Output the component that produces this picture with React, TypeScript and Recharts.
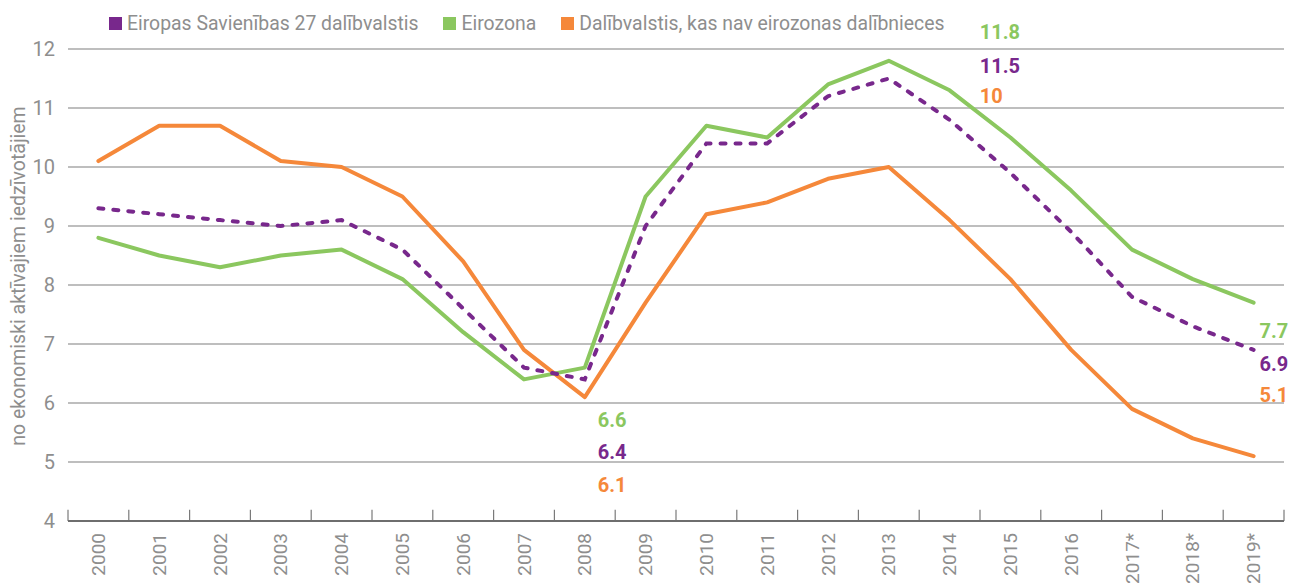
import React from 'react';
import { LineChart, Line, XAxis, YAxis, CartesianGrid, ReferenceLine, LabelList, Label } from 'recharts';

const years = ['2000', '2001', '2002', '2003', '2004', '2005', '2006', '2007', '2008', '2009', '2010', '2011', '2012', '2013', '2014', '2015', '2016', '2017*', '2018*', '2019*'];
const eu27 = [9.3, 9.2, 9.1, 9.0, 9.1, 8.6, 7.6, 6.6, 6.4, 9.0, 10.4, 10.4, 11.2, 11.5, 10.8, 9.9, 8.9, 7.8, 7.3, 6.9];
const euroArea = [8.8, 8.5, 8.3, 8.5, 8.6, 8.1, 7.2, 6.4, 6.6, 9.5, 10.7, 10.5, 11.4, 11.8, 11.3, 10.5, 9.6, 8.6, 8.1, 7.7];
const nonEuro = [10.1, 10.7, 10.7, 10.1, 10.0, 9.5, 8.4, 6.9, 6.1, 7.7, 9.2, 9.4, 9.8, 10.0, 9.1, 8.1, 6.9, 5.9, 5.4, 5.1];
const yTicks = [4, 5, 6, 7, 8, 9, 10, 11, 12];
const seriesNames = ['Eiropas Savienības 27 dalībvalstis', 'Eirozona', 'Dalībvalstis, kas nav eirozonas dalībnieces'];
const yAxisTitle = 'no ekonomiski aktīvajiem iedzīvotājiem';

const PURPLE = '#78288c';
const GREEN = '#8bc75f';
const ORANGE = '#f5883a';
const GRAY = '#8e8e8e';
const FONT = 'Roboto, "Open Sans", sans-serif';

const data = years.map((year, i) => ({ i, year, eu27: eu27[i], euro: euroArea[i], non: nonEuro[i] }));
const xTicks = years.map((_, i) => i);
const boundaries = [...years.map((_, i) => i - 0.5), years.length - 0.5];

// annotation layout: index -> [dx, dy] relative to the point
const annGreen: Record<number, [number, number]> = { 8: [13, 52], 13: [91, -29], 19: [6, 28] };
const annPurple: Record<number, [number, number]> = { 8: [13, 73], 13: [91, -13], 19: [6, 14] };
const annOrange: Record<number, [number, number]> = { 8: [13, 88], 13: [91, -71], 19: [6, -61] };

const makeLabel = (ann: Record<number, [number, number]>, color: string) => (props: any) => {
  const { x, y, index, value } = props;
  const off = ann[index];
  if (!off) return null;
  return (
    <text x={x + off[0]} y={y + off[1]} fill={color} fontFamily={FONT} fontWeight={700} fontSize={20} textAnchor="start" dominantBaseline="central">
      {String(value)}
    </text>
  );
};

const XTick = (props: any) => {
  const { x, y, payload } = props;
  return (
    <text x={x} y={y} transform={`rotate(-90, ${x}, ${y})`} textAnchor="end" dominantBaseline="central" fill={GRAY} fontFamily={FONT} fontSize={19}>
      {years[payload.value]}
    </text>
  );
};

const legendColors = [PURPLE, GREEN, ORANGE];

export default function App() {
  return (
    <div style={{ position: 'absolute', left: 0, top: 0, width: 1290, height: 583, background: '#fff' }}>
      <LineChart width={1290} height={583} data={data} margin={{ top: 49, right: 6, bottom: 0, left: 0 }}>
        <CartesianGrid horizontal vertical={false} stroke="#a8a8a8" strokeWidth={1.5} />
        <XAxis
          dataKey="i"
          type="number"
          domain={[-0.5, years.length - 0.5]}
          ticks={xTicks}
          interval={0}
          tick={<XTick />}
          tickLine={false}
          tickSize={0}
          tickMargin={12}
          height={62}
          axisLine={{ stroke: '#6e6e6e', strokeWidth: 2 }}
        />
        <YAxis
          domain={[4, 12]}
          ticks={yTicks}
          width={68}
          axisLine={false}
          tickLine={false}
          tickMargin={7}
          tick={{ fill: GRAY, fontSize: 20, fontFamily: FONT }}
        >
          <Label value={yAxisTitle} angle={-90} position="insideLeft" offset={0} dx={18} dy={-9} style={{ fill: GRAY, fontSize: 19.5, fontFamily: FONT, textAnchor: 'middle' }} />
        </YAxis>
        {boundaries.map((b) => (
          <ReferenceLine key={b} segment={[{ x: b, y: 4 }, { x: b, y: 4.19 }]} stroke="#7a7a7a" strokeWidth={1.2} />
        ))}
        <Line dataKey="non" stroke={ORANGE} strokeWidth={4} dot={false} isAnimationActive={false} strokeLinejoin="round" strokeLinecap="round">
          <LabelList dataKey="non" content={makeLabel(annOrange, ORANGE)} />
        </Line>
        <Line dataKey="euro" stroke={GREEN} strokeWidth={4} dot={false} isAnimationActive={false} strokeLinejoin="round" strokeLinecap="round">
          <LabelList dataKey="euro" content={makeLabel(annGreen, GREEN)} />
        </Line>
        <Line dataKey="eu27" stroke={PURPLE} strokeWidth={4} strokeDasharray="5 10" strokeLinecap="round" dot={false} isAnimationActive={false}>
          <LabelList dataKey="eu27" content={makeLabel(annPurple, PURPLE)} />
        </Line>
      </LineChart>
      <div style={{ position: 'absolute', left: 109, top: 12, display: 'flex', alignItems: 'center', fontFamily: FONT, fontSize: 19.4, color: GRAY, whiteSpace: 'nowrap' }}>
        {seriesNames.map((n, k) => (
          <div key={n} style={{ display: 'flex', alignItems: 'center', marginRight: 25 }}>
            <span style={{ display: 'inline-block', width: 13, height: 13, background: legendColors[k], marginRight: 5 }} />
            <span>{n}</span>
          </div>
        ))}
      </div>
    </div>
  );
}
